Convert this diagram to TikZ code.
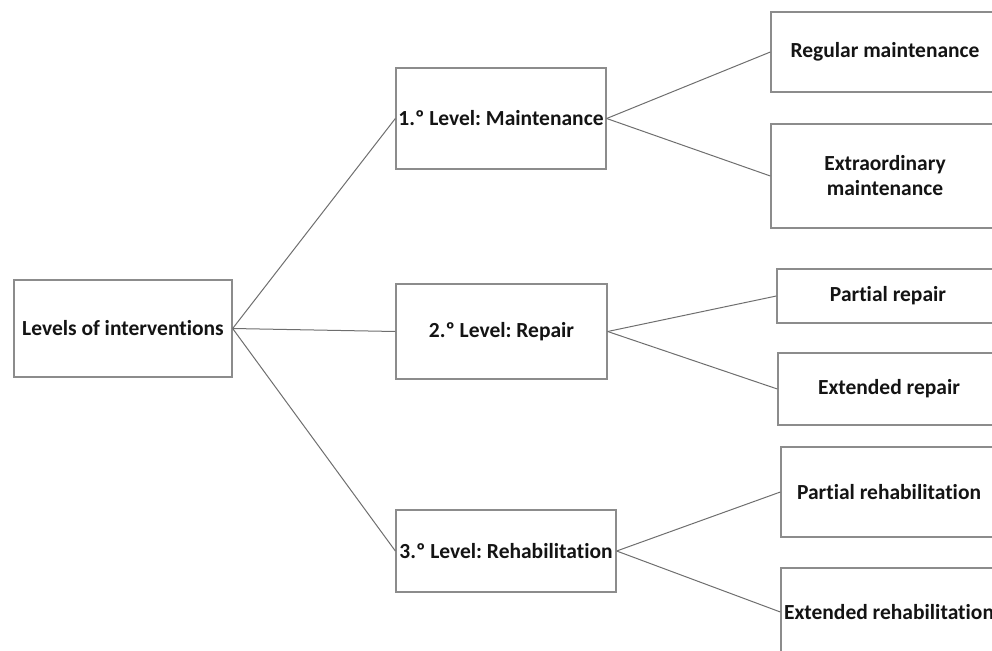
\documentclass[tikz,border=0pt]{standalone}
\usepackage{fontspec}
\setmainfont{Carlito}[Ligatures=NoCommon]
\frenchspacing
\usetikzlibrary{positioning,shapes}
\definecolor{boxgray}{RGB}{140,140,140}
\definecolor{linegray}{RGB}{110,110,110}
\definecolor{textblack}{RGB}{20,20,20}
\tikzstyle{box} = [rectangle, draw=boxgray, line width=1.3pt, fill=white, text=textblack, font=\bfseries\fontsize{21.5}{25}\selectfont, align=center, inner sep=1pt]
\tikzstyle{link} = [draw=linegray, line width=1pt]

\begin{document}
\begin{tikzpicture}[x=1pt, y=-1pt]
            \useasboundingbox (0,0) rectangle (992,650);
            \clip (0,0) rectangle (992,650);

            \node[box, minimum width=218pt, minimum height=97pt] (levels) at (123,328.5) {Levels of interventions};

            \node[box, minimum width=210pt, minimum height=101pt] (lvlone) at (501,118.5) {1.º Level: Maintenance};
            \node[box, minimum width=211pt, minimum height=95pt] (lvltwo) at (501.5,331.5) {2.º Level: Repair};
            \node[box, minimum width=220pt, minimum height=82pt] (lvlthree) at (506,551) {3.º Level: Rehabilitation};

            \node[box, minimum width=228pt, minimum height=80pt] (regular) at (885,52) {Regular maintenance};
            \node[box, minimum width=228pt, minimum height=104pt] (extra) at (885,176) {Extraordinary\\maintenance};
            \node[box, minimum width=222pt, minimum height=54pt] (prepair) at (888,296) {Partial repair};
            \node[box, minimum width=222pt, minimum height=72pt] (erepair) at (889,389) {Extended repair};
            \node[box, minimum width=216pt, minimum height=90pt] (prehab) at (889,492) {Partial rehabilitation};
            \node[box, minimum width=216pt, minimum height=88pt] (erehab) at (889,612) {Extended rehabilitation};

            % first split
            \draw[link] (levels.east) -- (lvlone.west);
            \draw[link] (levels.east) -- (lvltwo.west);
            \draw[link] (levels.east) -- (lvlthree.west);

            % second split
            \draw[link] (lvlone.east) -- (regular.west);
            \draw[link] (lvlone.east) -- (extra.west);
            \draw[link] (lvltwo.east) -- (prepair.west);
            \draw[link] (lvltwo.east) -- (erepair.west);
            \draw[link] (lvlthree.east) -- (prehab.west);
            \draw[link] (lvlthree.east) -- (erehab.west);
            \end{tikzpicture}
\end{document}
